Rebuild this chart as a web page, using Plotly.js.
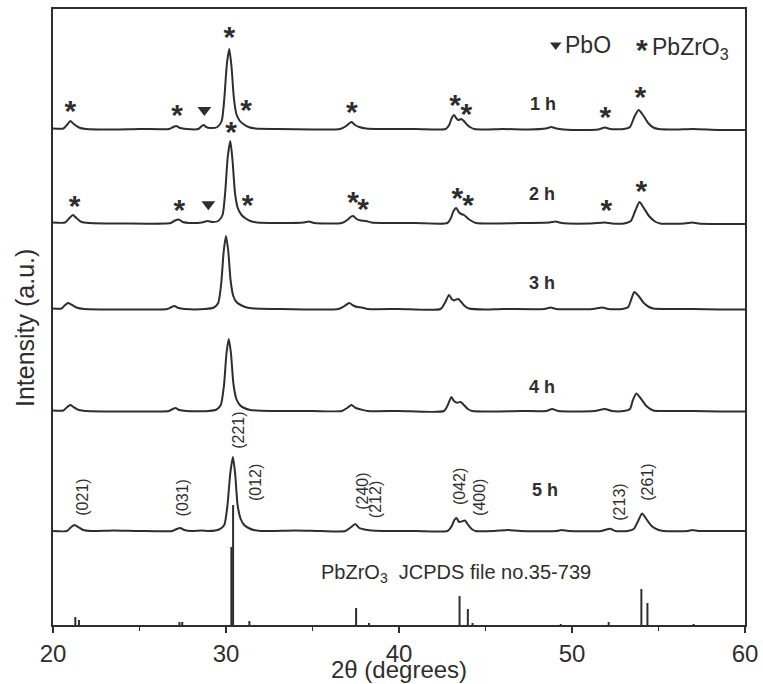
<!DOCTYPE html>
<html><head><meta charset="utf-8">
<script src="https://cdn.plot.ly/plotly-3.0.1.min.js"></script>
<style>html,body{margin:0;padding:0;background:#fff}#chart{width:763px;height:684px}</style>
</head><body><div id="chart"></div>
<script>
// ---------------- DATA ----------------
const seriesNames = ['1 h', '2 h', '3 h', '4 h', '5 h'];

const x1h = [20.0,20.6,20.85,21.0,21.2,21.5,21.9,23.5,25.0,26.7,26.95,27.12,27.35,27.7,28.4,28.6,28.71,28.85,29.1,29.5,29.75,29.9,30.05,30.19,30.32,30.45,30.6,30.8,31.0,31.3,31.7,33,35,36.6,36.95,37.15,37.27,37.45,37.7,38.1,39,41,42.7,42.9,43.05,43.18,43.3,43.43,43.6,43.75,43.95,44.15,44.35,45,46,47.5,48.5,48.8,49.1,50,51.5,51.9,52.2,53.0,53.35,53.6,53.85,54.1,54.4,54.7,55.0,56,57,58.5,60];
const y1h = [0.5,0.5,5,8,5,1.5,0,-0.5,0,0,2,3,1,0,0,3,4,2,1,2,8,30,65,80,62,32,15,8,5,2,0.5,0,-0.5,0,3,6,7,4,2,0.5,0,0,0,4,11,14,11,9,10,8,4,1.5,0,-0.5,0,-0.5,0.5,2,0.5,-1,-0.5,1.5,0,0,2,12,19,14,6,1.5,0,-0.5,0,-1,-1];

const x2h = [20.0,20.7,20.95,21.15,21.35,21.65,22.1,24,26.8,27.05,27.27,27.5,27.9,28.6,28.94,29.2,29.55,29.8,29.95,30.1,30.25,30.38,30.52,30.68,30.9,31.1,31.4,31.8,33,34.5,34.8,35.1,36.7,37.05,37.2,37.35,37.55,37.8,38.1,38.4,39.5,41,42.8,43.0,43.15,43.31,43.45,43.6,43.76,43.95,44.2,44.45,45.5,47,48.7,49.05,49.4,51,51.9,52.3,53.0,53.4,53.65,53.9,54.15,54.45,54.8,55.1,56.5,56.95,57.3,58.5,60];
const y2h = [0.5,0.5,5,8,5,1,0,-0.5,0,2.5,3.5,1,0,0.5,2,1,2,8,30,66,82,62,30,15,8,5,2,0.5,0,0.5,1.5,0,0,3.5,6,7,4,2.5,2,0.5,0,0,0,5,12,15,11,9,8,5,2,0,-0.5,0,0.5,1.5,0,-0.5,0.5,-0.5,-0.5,2,12,21,15,7,1.5,-0.5,-0.5,0.5,-0.5,-1,-1];

const x3h = [20.0,20.5,20.7,20.87,21.05,21.35,21.8,24,26.6,26.85,27.02,27.25,27.6,28.8,29.3,29.55,29.72,29.87,30.0,30.13,30.27,30.42,30.6,30.85,31.2,31.6,33,35,36.5,36.85,37.12,37.35,37.6,37.85,38.2,40,42.4,42.65,42.89,43.05,43.18,43.3,43.43,43.6,43.8,44.05,45,46,48.4,48.76,49.1,51.2,51.74,52.1,52.9,53.25,53.45,53.6,53.85,54.15,54.45,54.7,55.5,57,58.5,60];
const y3h = [0.5,0.5,4,6,4.5,1.5,0,-0.5,0,2,3,1,0,0,1.5,6,25,58,73,58,28,13,7,4,1.5,0.5,0,-0.5,0,3,6,3.5,2,1.5,0,0,0,6,14,10,8.5,9.5,10,7,3,0.5,-0.5,0,0,1.5,0,0,1.5,0,0,2,11,17,13,6,2,0.5,0,0,-0.5,-0.5];

const x4h = [20.0,20.6,20.82,21.0,21.18,21.5,21.9,24,26.7,26.92,27.08,27.3,27.7,29.0,29.45,29.7,29.88,30.03,30.16,30.29,30.43,30.6,30.8,31.05,31.4,31.8,33,35,36.7,37.0,37.25,37.5,37.8,38.2,40,42.6,42.82,43.03,43.18,43.35,43.56,43.75,43.98,44.23,45.5,47,48.5,48.85,49.2,51.3,51.9,52.3,53.0,53.35,53.52,53.72,54.0,54.3,54.7,55.5,57,58.5,60];
const y4h = [0.5,0.5,4,6,4,1,0,-0.5,0,2,3,1,0,0,1.5,6,25,58,72,57,27,12,6,3,1,0.5,0,0,0,3,6,3,1.5,0,0,0,6,14,10,8.3,9,6,2,0,-0.5,0,0,2,0,0,2,0,0,2,11,17.5,12,5,0.5,0,0,-0.5,-0.5];

const x5h = [20.0,20.8,21.05,21.25,21.45,21.75,22.2,23.5,25,26.9,27.15,27.35,27.6,28.0,28.6,29.0,29.6,29.9,30.08,30.25,30.4,30.53,30.67,30.85,31.05,31.3,31.6,32.0,34,35.5,36.9,37.2,37.47,37.7,38.0,38.4,39,41,42.8,43.05,43.2,43.33,43.47,43.62,43.81,44.0,44.2,44.43,45.5,46.3,47,49.1,49.4,49.8,51.7,52.2,52.5,53.2,53.57,53.82,54.05,54.3,54.6,55.0,55.3,56.7,56.95,57.3,58.5,60];
const y5h = [0,0,4,6,4,1,0,0.5,0,0,2,3,1,0,0.5,0,1.5,6,25,58,74,57,26,12,6,3,1,0,0.5,0,0,3.5,7,3,1.5,0.5,0,0,0,5,11,13,9,9.5,10.5,6,2,0,0,1,0,0,1,0,0,2.3,0,0,2,10,17.5,12,5,1,0,0,1,0,0,0];

// vertical stacking offset of each pattern (intensity units)
const offsets = [496, 402, 316, 214, 94];

// JCPDS 35-739 reference lines: 2θ and relative height
const refTheta = [21.29,21.50,27.31,27.47,30.31,30.41,31.35,37.52,38.27,43.50,43.98,44.25,49.35,52.12,54.01,54.36,57.03];
const refInt   = [8,5,3,3,78,120,4,17,2,29,16,2,1,3,36,22,1];

// PbZrO3 peak marks (*) per pattern: 2θ and height above that pattern's baseline
const starTheta1h = [21.0,27.18,30.2,31.16,37.28,43.24,43.89,51.93,53.95];
const starH1h     = [22.3,18.3,96.3,24,21.7,28.3,19.7,16.7,36.3];
const starTheta2h = [21.25,27.31,30.29,31.25,37.35,37.93,43.37,44.0,51.99,54.01];
const starH2h     = [21.3,18,95.7,23,25.7,19,29.7,22.3,18,37];
// PbO peak marks (▼)
const pboTheta = [28.75, 28.98];
const pboH     = [19, 18.7];   // above baselines of 1 h and 2 h

// Miller indices labelled on the 5 h pattern
const hklLabels = ['(021)','(031)','(221)','(012)','(240)','(212)','(042)','(400)','(213)','(261)'];
const refLabel = 'PbZrO<sub>3</sub>  JCPDS file no.35-739';
const legendPbO = 'PbO';
const legendPZO = 'PbZrO<sub>3</sub>';

// ---------------- LAYOUT / STYLE ----------------
const INK = '#2e2e2e';
const FONT = 'Liberation Sans, Arial, sans-serif';
const STAR_SHIFT = -7;  // glyph of '*' sits high in its text box

const xs = [x1h, x2h, x3h, x4h, x5h];
const ys = [y1h, y2h, y3h, y4h, y5h];
const traces = [];
xs.forEach((xx, i) => {
  traces.push({
    type: 'scatter', mode: 'lines', x: xx,
    y: ys[i].map(v => v + offsets[i]),
    line: {color: INK, width: 2, shape: 'spline', smoothing: 0.6},
    hoverinfo: 'skip', name: seriesNames[i]
  });
});
// reference stick pattern
const rx = [], ry = [];
refTheta.forEach((t, i) => { rx.push(t, t, null); ry.push(0, refInt[i], null); });
traces.push({type: 'scatter', mode: 'lines', x: rx, y: ry,
  line: {color: INK, width: 2}, hoverinfo: 'skip', cliponaxis: false});

// stars
const sx = starTheta1h.concat(starTheta2h);
const sy = starH1h.map(v => v + offsets[0] + STAR_SHIFT)
  .concat(starH2h.map(v => v + offsets[1] + STAR_SHIFT));
traces.push({type: 'scatter', mode: 'text', x: sx, y: sy,
  text: sx.map(() => '*'), textposition: 'middle center',
  textfont: {family: FONT, size: 30, color: INK, weight: 'bold'}, hoverinfo: 'skip', cliponaxis: false});
// PbO triangles
traces.push({type: 'scatter', mode: 'markers', x: pboTheta,
  y: [pboH[0] + offsets[0], pboH[1] + offsets[1]],
  marker: {symbol: 'triangle-down', size: 12, color: INK}, hoverinfo: 'skip'});
// legend symbols (top right)
traces.push({type: 'scatter', mode: 'markers', x: [49.06], y: [580],
  marker: {symbol: 'triangle-down', size: 10, color: INK}, hoverinfo: 'skip'});
traces.push({type: 'scatter', mode: 'text', x: [54.03], y: [580 + STAR_SHIFT], text: ['*'],
  textfont: {family: FONT, size: 30, color: INK, weight: 'bold'}, hoverinfo: 'skip'});

const hklPos = [[21.66,128],[27.48,127],[30.68,195],[31.68,142],[37.85,134],[38.62,125],[43.47,138],[44.62,128],[52.7,123],[54.32,143]];
const annotations = hklLabels.map((t, i) => ({
  text: t, x: hklPos[i][0], y: hklPos[i][1], xref: 'x', yref: 'y',
  textangle: -90, showarrow: false, xanchor: 'center', yanchor: 'middle',
  font: {family: FONT, size: 16, color: INK}
}));
const seriesLabelPos = [[48.31,521],[48.26,431],[48.26,342],[48.26,238],[48.43,135]];
seriesNames.forEach((t, i) => annotations.push({
  text: '<b>' + t + '</b>', x: seriesLabelPos[i][0], y: seriesLabelPos[i][1],
  xref: 'x', yref: 'y', showarrow: false, font: {family: FONT, size: 18, color: INK}
}));
annotations.push({text: refLabel, x: 35.4, y: 52, xref: 'x', yref: 'y', xanchor: 'left',
  showarrow: false, font: {family: FONT, size: 20, color: INK}});
annotations.push({text: legendPbO, x: 49.5, y: 580, xref: 'x', yref: 'y', xanchor: 'left',
  showarrow: false, font: {family: FONT, size: 23, color: INK}});
annotations.push({text: legendPZO, x: 54.5, y: 577, xref: 'x', yref: 'y', xanchor: 'left',
  showarrow: false, font: {family: FONT, size: 23, color: INK}});
annotations.push({text: '2θ (degrees)', x: 0.5, y: -0.073, xref: 'paper', yref: 'paper',
  showarrow: false, yanchor: 'middle', font: {family: FONT, size: 24, color: INK}});
annotations.push({text: 'Intensity (a.u.)', x: -0.0405, y: 0.482, xref: 'paper', yref: 'paper',
  textangle: -90, showarrow: false, xanchor: 'center', yanchor: 'middle',
  font: {family: FONT, size: 25, color: INK}});

const layout = {
  width: 763, height: 684,
  margin: {l: 53, r: 18, t: 9, b: 59},
  paper_bgcolor: '#fff', plot_bgcolor: '#fff',
  showlegend: false,
  font: {family: FONT, color: INK},
  xaxis: {range: [20, 60], tickvals: [20, 30, 40, 50, 60], ticks: 'outside', ticklen: 6, tickwidth: 1.5,
    tickcolor: INK, showline: true, linewidth: 2, linecolor: INK, mirror: true,
    showgrid: false, zeroline: false, tickfont: {family: FONT, size: 24, color: INK},
    minor: {tickvals: [25, 35, 45, 55], ticks: 'outside', ticklen: 4, tickwidth: 1.5, tickcolor: INK, showgrid: false}},
  yaxis: {range: [0, 616], showticklabels: false, ticks: '', showline: true, linewidth: 2,
    linecolor: INK, mirror: true, showgrid: false, zeroline: false},
  annotations: annotations
};
Plotly.newPlot('chart', traces, layout, {staticPlot: true, displayModeBar: false});
</script></body></html>
